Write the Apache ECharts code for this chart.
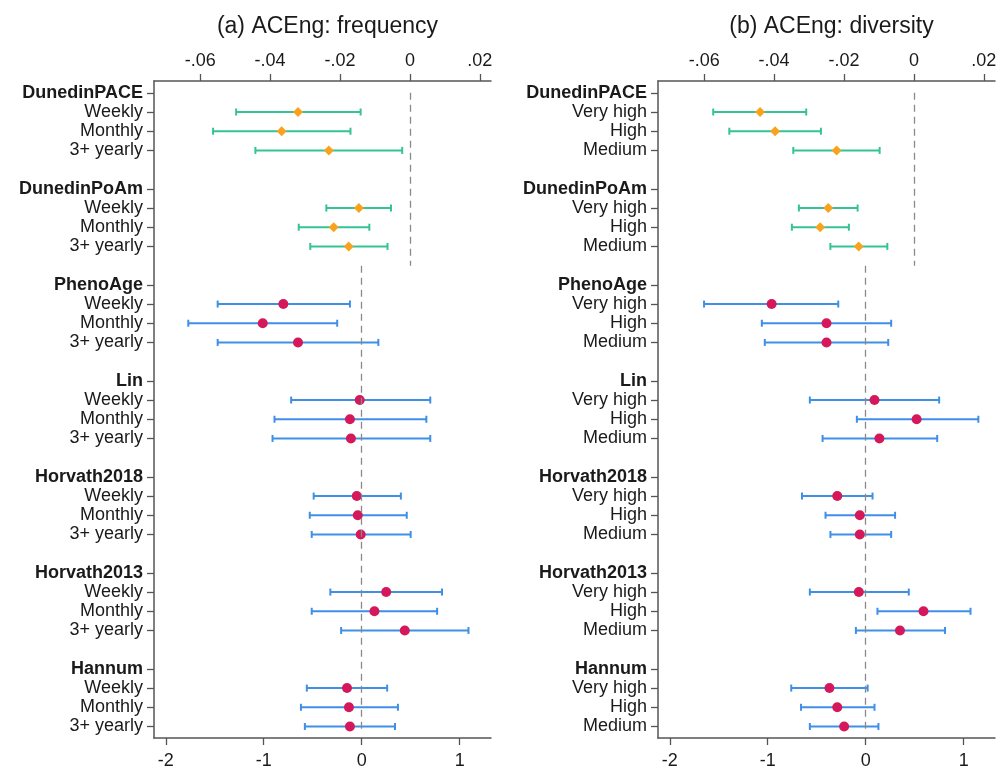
<!DOCTYPE html>
<html>
<head>
<meta charset="utf-8">
<title>ACEng</title>
<script src="https://cdn.jsdelivr.net/npm/echarts@6/dist/echarts.min.js"></script>
<style>
  html, body { margin: 0; padding: 0; background: #fff; }
  #main { width: 1000px; height: 771px; }
</style>
</head>
<body>
<div id="main"></div>
<script>
  // Clocks (rows in both panels), the first two are on the top axis
  var groups = ['DunedinPACE', 'DunedinPoAm', 'PhenoAge', 'Lin', 'Horvath2018', 'Horvath2013', 'Hannum'];
  var topAxisGroups = ['DunedinPACE', 'DunedinPoAm'];
  var freqLevels = ['Weekly', 'Monthly', '3+ yearly'];
  var divLevels = ['Very high', 'High', 'Medium'];

  // (a) frequency: estimate, lower and upper bound per clock
  var freqEst = [
    [-0.0320, -0.0367, -0.0232],
    [-0.0146, -0.0218, -0.0175],
    [-0.80, -1.01, -0.65],
    [-0.02, -0.12, -0.11],
    [-0.05, -0.04, -0.01],
    [0.25, 0.13, 0.44],
    [-0.15, -0.13, -0.12]
  ];
  var freqLo = [
    [-0.0497, -0.0563, -0.0442],
    [-0.0239, -0.0318, -0.0285],
    [-1.47, -1.77, -1.47],
    [-0.72, -0.89, -0.91],
    [-0.49, -0.53, -0.51],
    [-0.32, -0.51, -0.21],
    [-0.56, -0.62, -0.58]
  ];
  var freqHi = [
    [-0.0141, -0.0170, -0.0022],
    [-0.0054, -0.0116, -0.0064],
    [-0.12, -0.25, 0.17],
    [0.70, 0.66, 0.70],
    [0.40, 0.46, 0.50],
    [0.82, 0.77, 1.09],
    [0.26, 0.37, 0.34]
  ];

  // (b) diversity
  var divEst = [
    [-0.0440, -0.0397, -0.0221],
    [-0.0245, -0.0268, -0.0158],
    [-0.96, -0.40, -0.40],
    [0.09, 0.52, 0.14],
    [-0.29, -0.06, -0.06],
    [-0.07, 0.59, 0.35],
    [-0.37, -0.29, -0.22]
  ];
  var divLo = [
    [-0.0574, -0.0528, -0.0345],
    [-0.0329, -0.0349, -0.0239],
    [-1.65, -1.06, -1.03],
    [-0.57, -0.09, -0.44],
    [-0.65, -0.41, -0.36],
    [-0.57, 0.12, -0.10],
    [-0.76, -0.66, -0.57]
  ];
  var divHi = [
    [-0.0308, -0.0266, -0.0098],
    [-0.0161, -0.0186, -0.0076],
    [-0.28, 0.26, 0.23],
    [0.75, 1.15, 0.73],
    [0.07, 0.30, 0.26],
    [0.44, 1.07, 0.81],
    [0.02, 0.09, 0.13]
  ];

  // Tick labels
  var topTicks = [-0.06, -0.04, -0.02, 0, 0.02];
  var bottomTicks = [-2, -1, 0, 1];

  var FONT = '"Liberation Sans", Arial, sans-serif';
  var TEXT = '#1a1a1a';
  var AXIS = '#555';
  var GREEN = '#35c394';
  var ORANGE = '#f8a31f';
  var BLUE = '#3f8fe6';
  var CRIMSON = '#d4185a';

  var myChart;

  /**
   * @name buildRows
   * @desc slot index per row: header, three levels, then a blank slot
   * @param {array} levels level names
   * @return {object} slot list and label lookup
   */
  function buildRows(levels) {
    var slots = [], labels = {}, i, j, s;
    for (i = 0; i < groups.length; i++) {
      s = i * 5;
      slots.push(s);
      labels[s] = '{b|' + groups[i] + '}';
      for (j = 0; j < levels.length; j++) {
        slots.push(s + j + 1);
        labels[s + j + 1] = levels[j];
      }
    }
    return { slots: slots, labels: labels };
  }

  /**
   * @name splitData
   * @desc split estimates into top-axis and bottom-axis series data
   */
  function splitData(est, lo, hi) {
    var out = { topBars: [], topPts: [], botBars: [], botPts: [] }, i, j, slot, isTop;
    for (i = 0; i < groups.length; i++) {
      isTop = topAxisGroups.indexOf(groups[i]) >= 0;
      for (j = 0; j < est[i].length; j++) {
        slot = i * 5 + j + 1;
        if (isTop) {
          out.topBars.push([lo[i][j], hi[i][j], slot]);
          out.topPts.push([est[i][j], slot]);
        } else {
          out.botBars.push([lo[i][j], hi[i][j], slot]);
          out.botPts.push([est[i][j], slot]);
        }
      }
    }
    return out;
  }

  function errorBarRender(color) {
    return function (params, api) {
      var y = api.value(2);
      var a = api.coord([api.value(0), y]);
      var b = api.coord([api.value(1), y]);
      var h = 3.5;
      var style = { stroke: color, lineWidth: 2 };
      return {
        type: 'group',
        children: [
          { type: 'line', shape: { x1: a[0], y1: a[1], x2: b[0], y2: b[1] }, style: style },
          { type: 'line', shape: { x1: a[0], y1: a[1] - h, x2: a[0], y2: a[1] + h }, style: style },
          { type: 'line', shape: { x1: b[0], y1: b[1] - h, x2: b[0], y2: b[1] + h }, style: style }
        ]
      };
    };
  }

  function topFmt(v) {
    if (Math.abs(v) < 1e-9) return '0';
    return (v < 0 ? '-' : '') + String(Math.round(Math.abs(v) * 100) / 100).replace(/^0/, '');
  }

  function xAxes(gridIndex) {
    var common = {
      gridIndex: gridIndex,
      type: 'value',
      axisLine: { show: true, onZero: false, lineStyle: { color: AXIS, width: 1.5 } },
      axisTick: { show: true, length: 7, lineStyle: { color: AXIS, width: 1.3 } },
      splitLine: { show: false },
      axisLabel: { fontFamily: FONT, fontSize: 18, color: TEXT }
    };
    var bottom = echarts.util.merge({
      position: 'bottom', min: -2.12, max: 1.32,
      axisTick: { customValues: bottomTicks },
      axisLabel: { customValues: bottomTicks, margin: 14, formatter: function (v) { return String(v); } }
    }, common);
    var top = echarts.util.merge({
      position: 'top', min: -0.0732, max: 0.0232,
      axisTick: { customValues: topTicks },
      axisLabel: { customValues: topTicks, margin: 11, formatter: topFmt }
    }, common);
    return [bottom, top];
  }

  function yAxis(gridIndex, rows) {
    return {
      gridIndex: gridIndex,
      type: 'value',
      inverse: true,
      min: -0.615,
      max: 33.6,
      axisLine: { show: true, onZero: false, lineStyle: { color: AXIS, width: 1.5 } },
      axisTick: { show: true, length: 7, customValues: rows.slots, lineStyle: { color: AXIS, width: 1.3 } },
      splitLine: { show: false },
      axisLabel: {
        customValues: rows.slots,
        margin: 11,
        fontFamily: FONT,
        fontSize: 18,
        color: TEXT,
        formatter: function (v) { return rows.labels[Math.round(v)] || ''; },
        rich: { b: { fontFamily: FONT, fontSize: 18, fontWeight: 'bold', color: TEXT } }
      }
    };
  }

  function panelSeries(d, xBottom, xTop, yIdx) {
    var dash = { color: '#8a8a8a', width: 1.3, type: [7, 5] };
    return [
      {
        type: 'custom', xAxisIndex: xTop, yAxisIndex: yIdx,
        renderItem: errorBarRender(GREEN), encode: { x: [0, 1], y: 2 },
        data: d.topBars, silent: true, z: 2
      },
      {
        type: 'custom', xAxisIndex: xBottom, yAxisIndex: yIdx,
        renderItem: errorBarRender(BLUE), encode: { x: [0, 1], y: 2 },
        data: d.botBars, silent: true, z: 2
      },
      {
        type: 'scatter', xAxisIndex: xTop, yAxisIndex: yIdx,
        symbol: 'diamond', symbolSize: [10, 10],
        itemStyle: { color: ORANGE, opacity: 1 },
        data: d.topPts, z: 4,
        markLine: {
          silent: true, symbol: 'none', label: { show: false }, lineStyle: dash,
          data: [[{ coord: [0, 0] }, { coord: [0, 9] }]]
        }
      },
      {
        type: 'scatter', xAxisIndex: xBottom, yAxisIndex: yIdx,
        symbol: 'circle', symbolSize: 10,
        itemStyle: { color: CRIMSON, opacity: 1 },
        data: d.botPts, z: 4,
        markLine: {
          silent: true, symbol: 'none', label: { show: false }, lineStyle: dash,
          data: [[{ coord: [0, 9] }, { coord: [0, 33.3] }]]
        }
      }
    ];
  }

  function paint() {
    myChart = echarts.init(document.getElementById('main'), null, { renderer: 'canvas' });

    var freqRows = buildRows(freqLevels);
    var divRows = buildRows(divLevels);
    var fx = xAxes(0), dx = xAxes(1);

    var option = {
      animation: false,
      backgroundColor: '#fff',
      title: [
        { text: '(a) ACEng: frequency', left: 322.5, top: 10, textAlign: 'center',
          textStyle: { fontFamily: FONT, fontSize: 23, fontWeight: 'normal', color: TEXT } },
        { text: '(b) ACEng: diversity', left: 826.5, top: 10, textAlign: 'center',
          textStyle: { fontFamily: FONT, fontSize: 23, fontWeight: 'normal', color: TEXT } }
      ],
      grid: [
        { left: 154, right: 509, top: 81, bottom: 33 },
        { left: 658, right: 5, top: 81, bottom: 33 }
      ],
      xAxis: [fx[0], fx[1], dx[0], dx[1]],
      yAxis: [yAxis(0, freqRows), yAxis(1, divRows)],
      series: panelSeries(splitData(freqEst, freqLo, freqHi), 0, 1, 0)
        .concat(panelSeries(splitData(divEst, divLo, divHi), 2, 3, 1))
    };

    myChart.setOption(option);
  }

  paint();
</script>
</body>
</html>
